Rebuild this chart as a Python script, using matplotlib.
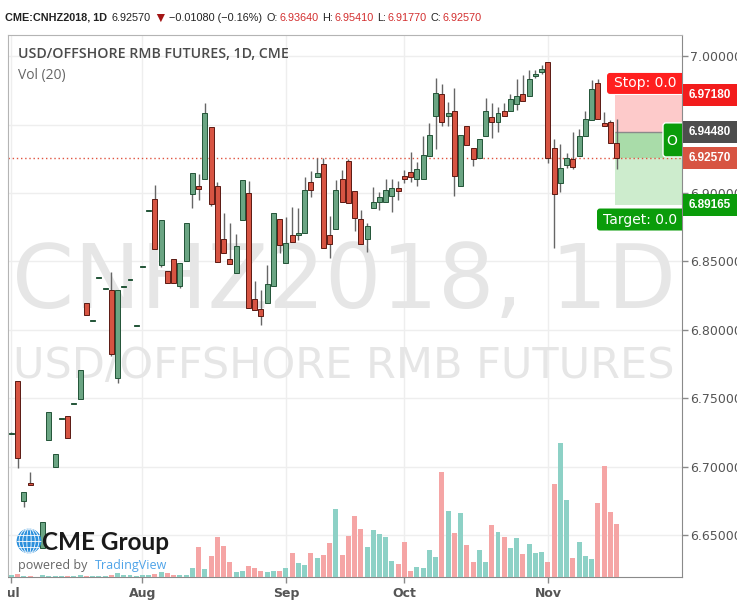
import numpy as np
import matplotlib
matplotlib.use('Agg')
import matplotlib.pyplot as plt
import matplotlib.transforms as mtransforms
from matplotlib.patches import Rectangle, FancyBboxPatch, Circle, Ellipse

W, H = 737, 601
nan = np.nan

# daily bars, CNHZ2018, Jul 2 .. Nov 16 2018 (bar 4 is empty)
opens = [6.7238, 6.7626, 6.6745, 6.6877, nan, 6.6401, 6.7192, 6.6994, 6.7350, 6.7367,
         6.7459, 6.7492, 6.8197, 6.8067, 6.8377, 6.8301, 6.8290, 6.7645, 6.8311, 6.8367,
         6.8030, 6.8462, 6.8867, 6.8956, 6.8473, 6.8431, 6.8517, 6.8319, 6.8502, 6.8992,
         6.9051, 6.9102, 6.9483, 6.9051, 6.8663, 6.8517, 6.8414, 6.8802, 6.9000, 6.8224,
         6.8151, 6.8194, 6.8319, 6.8809, 6.8487, 6.8692, 6.8692, 6.8709, 6.9082, 6.9115,
         6.9212, 6.8692, 6.8734, 6.9100, 6.9236, 6.9017, 6.8809, 6.8663, 6.8892, 6.8936,
         6.8936, 6.8978, 6.9034, 6.9126, 6.9151, 6.9100, 6.9100, 6.9270, 6.9563, 6.9724,
         6.9563, 6.9600, 6.9053, 6.9490, 6.9327, 6.9254, 6.9419, 6.9558, 6.9522, 6.9600,
         6.9600, 6.9649, 6.9724, 6.9712, 6.9856, 6.9883, 6.9957, 6.9327, 6.9071, 6.9205,
         6.9249, 6.9273, 6.9417, 6.9534, 6.9803, 6.9510, 6.9522, 6.9364]
highs = [6.7250, 6.7626, 6.6811, 6.6957, nan, 6.6591, 6.7397, 6.7089, 6.7356, 6.7367,
         6.7465, 6.7704, 6.8197, 6.8073, 6.8383, 6.8307, 6.8424, 6.8290, 6.8317, 6.8373,
         6.8036, 6.8468, 6.8873, 6.9058, 6.8802, 6.8431, 6.8517, 6.8487, 6.8782, 6.9146,
         6.9139, 6.9661, 6.9483, 6.9082, 6.8853, 6.8782, 6.8700, 6.9095, 6.9090, 6.8358,
         6.8290, 6.8473, 6.8853, 6.8809, 6.8824, 6.8897, 6.8890, 6.9119, 6.9163, 6.9254,
         6.9254, 6.8831, 6.9095, 6.9168, 6.9246, 6.9017, 6.8880, 6.8782, 6.9046, 6.9010,
         6.9100, 6.9100, 6.9090, 6.9168, 6.9298, 6.9224, 6.9417, 6.9510, 6.9844, 6.9796,
         6.9668, 6.9766, 6.9424, 6.9490, 6.9327, 6.9395, 6.9693, 6.9656, 6.9632, 6.9656,
         6.9722, 6.9834, 6.9864, 6.9900, 6.9900, 6.9937, 6.9961, 6.9395, 6.9356, 6.9290,
         6.9444, 6.9468, 6.9600, 6.9827, 6.9834, 6.9595, 6.9534, 6.9541]
lows = [6.7235, 6.6987, 6.6701, 6.6862, nan, 6.6401, 6.7192, 6.6994, 6.7350, 6.7206,
        6.7459, 6.7492, 6.8107, 6.8067, 6.8377, 6.8301, 6.7806, 6.7609, 6.8311, 6.8367,
        6.8030, 6.8462, 6.8867, 6.8590, 6.8458, 6.8343, 6.8341, 6.8304, 6.8502, 6.8890,
        6.8949, 6.9102, 6.8905, 6.8497, 6.8561, 6.8480, 6.8414, 6.8802, 6.8158, 6.8143,
        6.8033, 6.8194, 6.8319, 6.8561, 6.8487, 6.8641, 6.8656, 6.8709, 6.8973, 6.9115,
        6.8599, 6.8522, 6.8734, 6.8936, 6.8929, 6.8724, 6.8626, 6.8570, 6.8892, 6.8875,
        6.8936, 6.8863, 6.8949, 6.9071, 6.9078, 6.9053, 6.9100, 6.9270, 6.9320, 6.9492,
        6.9492, 6.8980, 6.9053, 6.9351, 6.9197, 6.9254, 6.9419, 6.9405, 6.9449, 6.9566,
        6.9600, 6.9607, 6.9675, 6.9712, 6.9839, 6.9871, 6.9217, 6.8599, 6.9010, 6.9181,
        6.9173, 6.9273, 6.9417, 6.9534, 6.9539, 6.9492, 6.9364, 6.9177]
closes = [6.7245, 6.7060, 6.6811, 6.6862, nan, 6.6591, 6.7397, 6.7089, 6.7356, 6.7206,
          6.7465, 6.7704, 6.8107, 6.8073, 6.8383, 6.8307, 6.7821, 6.8290, 6.8317, 6.8373,
          6.8036, 6.8468, 6.8873, 6.8590, 6.8802, 6.8343, 6.8341, 6.8487, 6.8782, 6.9146,
          6.9029, 6.9585, 6.8919, 6.8497, 6.8561, 6.8480, 6.8612, 6.9095, 6.8158, 6.8143,
          6.8099, 6.8334, 6.8853, 6.8620, 6.8634, 6.8641, 6.8709, 6.9022, 6.9022, 6.9148,
          6.8599, 6.8624, 6.9022, 6.8936, 6.8929, 6.8815, 6.8626, 6.8758, 6.8936, 6.8968,
          6.9022, 6.9034, 6.9017, 6.9102, 6.9115, 6.9173, 6.9278, 6.9424, 6.9734, 6.9522,
          6.9583, 6.9124, 6.9424, 6.9351, 6.9249, 6.9395, 6.9600, 6.9522, 6.9583, 6.9566,
          6.9686, 6.9712, 6.9675, 6.9834, 6.9869, 6.9905, 6.9258, 6.8990, 6.9185, 6.9258,
          6.9193, 6.9417, 6.9539, 6.9761, 6.9539, 6.9492, 6.9364, 6.9257]
# volume, read as bar height in screen pixels
volumes = [2, 3, 1, 1, 0, 2, 1, 1, 1, 1, 1, 2, 1, 1, 1, 1, 2, 4, 2, 2,
           1, 2, 2, 3, 5, 4, 2, 2, 2, 9, 30, 8, 21, 40, 31, 15, 5, 6, 11, 9,
           6, 5, 6, 6, 9, 24, 14, 12, 24, 19, 22, 34, 68, 22, 41, 61, 48, 30, 47, 43,
           40, 16, 13, 35, 6, 10, 9, 27, 20, 105, 66, 44, 64, 32, 15, 27, 15, 52, 45, 40,
           29, 39, 23, 33, 24, 25, 15, 93, 134, 77, 19, 35, 21, 18, 74, 111, 65, 53]

month_labels = ['Jul', 'Aug', 'Sep', 'Oct', 'Nov']
month_starts = [0, 21, 44, 63, 86]
price_ticks = [6.65, 6.70, 6.75, 6.80, 6.85, 6.90, 6.95, 7.00]

last_price = 6.92570
stop_price = 6.97180
entry_price = 6.94480
target_price = 6.89165

UP, DOWN = '#6ba583', '#d75442'
UP_EDGE, DOWN_EDGE = '#225437', '#5b1a13'
VOL_UP, VOL_DOWN = '#8dd1c6', '#f5a5a5'


def fx(p):
    return p / W


def fy(p):
    return 1 - p / H


px = mtransforms.IdentityTransform()

fig = plt.figure(figsize=(W / 100, H / 100), dpi=100)
fig.patch.set_facecolor('white')
ax = fig.add_axes([fx(8), fy(577), (682 - 8) / W, (577 - 35) / H])
vax = ax.twinx()

o = np.array(opens)
hi = np.array(highs)
lo = np.array(lows)
c = np.array(closes)
x = np.arange(len(o))
ok = ~np.isnan(o)
up = ok & (c >= o)
dn = ok & (c < o)

ax.set_xlim(-0.56, 107.5)
ax.set_ylim(6.61917, 7.01565)
ax.set_axisbelow(True)
ax.grid(True, color='#eeeeee', lw=1)

# watermark
ax.text(fx(344), fy(283), 'CNHZ2018, 1D', transform=fig.transFigure, ha='center', va='center',
        fontsize=64, color='#e6e6e6', family='DejaVu Sans', zorder=0.6)
ax.text(fx(344), fy(366), 'USD/OFFSHORE RMB FUTURES', transform=fig.transFigure, ha='center',
        va='center', fontsize=31, color='#e6e6e6', family='DejaVu Sans', zorder=0.6)

# volume (behind candles, same x)
vax.bar(x, volumes, width=0.8, color=np.where(c >= o, VOL_UP, VOL_DOWN), zorder=1)
vax.set_ylim(0, 542)
vax.set_yticks([])
for s in vax.spines.values():
    s.set_visible(False)

# candles
ax.vlines(x[ok], lo[ok], hi[ok], color='#666666', lw=1, zorder=3)
body_lo = np.minimum(o, c)
body_h = np.maximum(np.abs(c - o), 0.0007)
ax.bar(x[up], body_h[up], bottom=body_lo[up], width=0.8, color=UP, edgecolor=UP_EDGE, lw=0.7, zorder=4)
ax.bar(x[dn], body_h[dn], bottom=body_lo[dn], width=0.8, color=DOWN, edgecolor=DOWN_EDGE, lw=0.7, zorder=4)

# short position tool
x0, x1 = 96.8, 108
ax.add_patch(Rectangle((x0, entry_price), x1 - x0, stop_price - entry_price, fc='#fdcaca', ec='none', zorder=1.2))
ax.add_patch(Rectangle((x0, target_price), x1 - x0, entry_price - target_price, fc='#cdeccd', ec='none', zorder=1.2))
ax.add_patch(Rectangle((x0, last_price), x1 - x0, entry_price - last_price, fc='#a9dca9', ec='none', zorder=1.3))
ax.hlines(entry_price, x0, x1, color='#8a8a8a', lw=1, zorder=1.4)

# last price line
ax.axhline(last_price, color='#e0533f', ls=(0, (1, 2)), lw=1, zorder=2)

# spines / ticks
ax.yaxis.tick_right()
ax.set_yticks(price_ticks)
ax.yaxis.set_major_formatter(matplotlib.ticker.FormatStrFormatter('%.5f'))
ax.tick_params(axis='y', right=True, left=False, labelright=True, labelleft=False, length=4, width=1,
               color='#8a8a8a', labelcolor='#555555', labelsize=9, pad=2)
ax.set_xticks(month_starts)
ax.set_xticklabels(month_labels)
ax.tick_params(axis='x', length=4, width=1, color='#8a8a8a', labelcolor='#555555', labelsize=9, pad=3)
for lbl in ax.get_xticklabels():
    lbl.set_fontweight('bold')
for side in ['left', 'top']:
    ax.spines[side].set_color('#b4b4b4')
for side in ['right', 'bottom']:
    ax.spines[side].set_color('#8a8a8a')

# stop / target / open labels inside the plot
fig.canvas.draw()
r = fig.canvas.get_renderer()
ys = ax.transData.transform((0, stop_price))[1]
yt = ax.transData.transform((0, target_price))[1]
ye = ax.transData.transform((0, entry_price))[1]
yl = ax.transData.transform((0, last_price))[1]

b = FancyBboxPatch((607, ys + 1), 95, 21, boxstyle='round,pad=0,rounding_size=3', transform=px,
                   fc='#ff1f1f', ec='none', zorder=6)
ax.add_artist(b)
ax.text(614, ys + 11.5, 'Stop: 0.0', transform=px, va='center', ha='left', color='white',
        fontsize=10, zorder=7, clip_on=True)
b = FancyBboxPatch((597, yt - 26), 105, 22, boxstyle='round,pad=0,rounding_size=3', transform=px,
                   fc='#0a9c0a', ec='none', zorder=6)
ax.add_artist(b)
ax.text(603, yt - 15, 'Target: 0.0', transform=px, va='center', ha='left', color='white',
        fontsize=10, zorder=7, clip_on=True)
b = FancyBboxPatch((663, yl + 1), 40, ye - yl + 8, boxstyle='round,pad=0,rounding_size=3', transform=px,
                   fc='#0a9c0a', ec='white', lw=1, zorder=6)
ax.add_artist(b)
ax.text(666, (ye + yl) / 2 + 4, 'O', transform=px, va='center', ha='left', color='white',
        fontsize=10, zorder=7, clip_on=True)

# price tags on the right axis
for price, col in [(stop_price, '#f21c1c'), (entry_price, '#4d4d4d'),
                   (last_price, '#d75442'), (target_price, '#0a9c0a')]:
    yp = ax.transData.transform((0, price))[1]
    fig.add_artist(Rectangle((683, yp - 11), 60, 22, transform=px, fc=col, ec='none', zorder=5))
    fig.text(fx(689), fy(H - yp), '%.5f' % price, ha='left', va='center', color='white',
             fontsize=8.5, fontweight='bold', family='Liberation Sans', zorder=6)

# clip the first month label at the chart edge
fig.add_artist(Rectangle((0, 0), 8, 24, transform=px, fc='white', ec='none', zorder=10))

# header line, laid out left to right
RED = '#d32f2f'
hdr = [('CME:CNHZ2018, 1D', '#222222', 'bold', 5, 7.8), ('6.92570', '#222222', 'normal', 2, 7.8),
       ('▼', '#a31515', 'normal', 2, 10), ('−0.01080 (−0.16%)', '#222222', 'normal', 5, 7.8),
       ('O:', '#222222', 'normal', 1, 7.8), ('6.93640', RED, 'normal', 4, 7.8),
       ('H:', '#222222', 'normal', 1, 7.8), ('6.95410', RED, 'normal', 4, 7.8),
       ('L:', '#222222', 'normal', 1, 7.8), ('6.91770', RED, 'normal', 4, 7.8),
       ('C:', '#222222', 'normal', 1, 7.8), ('6.92570', RED, 'normal', 4, 7.8)]
hx = 5
for s, col, wt, gap, size in hdr:
    t = fig.text(fx(hx), fy(18), s, ha='left', va='center', color=col, fontweight=wt, fontsize=size,
                 family=['Liberation Sans', 'DejaVu Sans'])
    hx = t.get_window_extent(r).x1 + gap

# titles
fig.text(fx(18), fy(54), 'USD/OFFSHORE RMB FUTURES, 1D, CME', ha='left', va='center', color='#4a4a4a',
         fontsize=10.2, fontweight='semibold', family='Open Sans', zorder=8)
fig.text(fx(18), fy(75), 'Vol (20)', ha='left', va='center', color='#666666', fontsize=10,
         family='Open Sans', zorder=8)

# CME Group logo
gax = fig.add_axes([fx(16), fy(554), 26 / W, 26 / H], zorder=8)
gax.set_xlim(-1.05, 1.05)
gax.set_ylim(-1.05, 1.05)
gax.set_aspect('equal')
gax.axis('off')
globe = Circle((0, 0), 1, fc='#2a8fdc', ec='none')
gax.add_patch(globe)
for w in [0.35, 1.0, 1.6]:
    e = Ellipse((0, 0), w, 2, fc='none', ec='white', lw=0.6)
    gax.add_patch(e)
    e.set_clip_path(globe)
for yy in [-0.5, 0, 0.5]:
    ln, = gax.plot([-1, 1], [yy, yy], color='white', lw=0.6)
    ln.set_clip_path(globe)
fig.text(fx(42), fy(542), 'CME Group', ha='left', va='center', color='#1a1a1a', fontsize=17.5,
         fontweight='bold', family='Lato', zorder=8)
fig.text(fx(18), fy(565), 'powered by', ha='left', va='center', color='#666666', fontsize=9,
         family='Open Sans', zorder=8)
fig.text(fx(95), fy(565), 'TradingView', ha='left', va='center', color='#4ea3e8', fontsize=9,
         family='Open Sans', zorder=8)

fig.savefig('out.png', dpi=100)
